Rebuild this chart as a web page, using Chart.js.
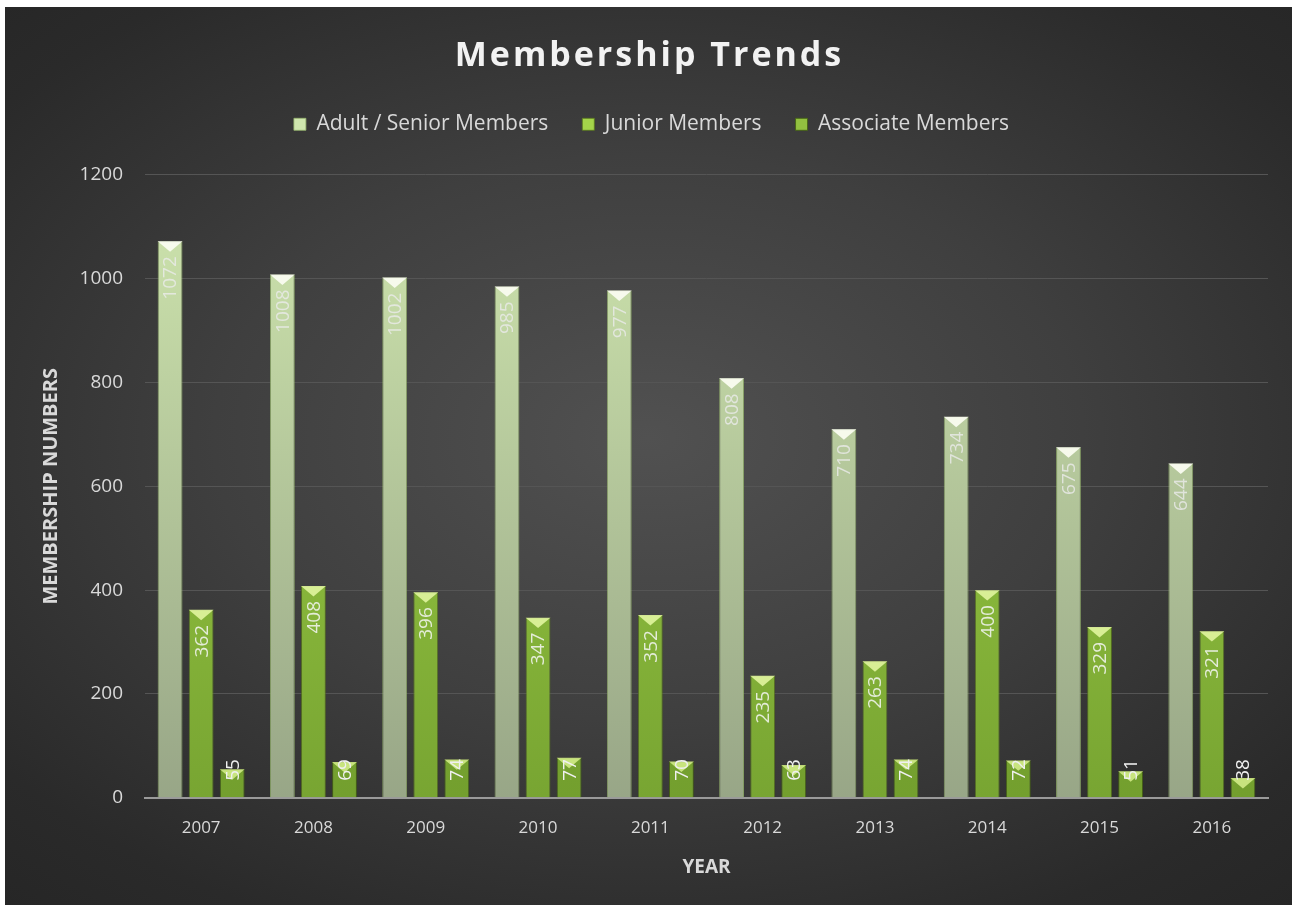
<!DOCTYPE html>
<html>
<head>
<meta charset="utf-8">
<script src="https://cdn.jsdelivr.net/npm/chart.js@4"></script>
<style>
    body { margin: 0; background: #ffffff; }
    #wrap {
        position: absolute; left: 5px; top: 7px; width: 1287px; height: 898px;
        background: radial-gradient(ellipse 75% 70% at 50% 48%, #515151 0%, #3f3f3f 45%, #2a2a2a 85%, #262626 100%);
    }
</style>
</head>
<body>
<div id="wrap"><canvas id="chart"></canvas></div>
<script>
// Membership numbers per year
var years = ['2007', '2008', '2009', '2010', '2011', '2012', '2013', '2014', '2015', '2016'];
var adultMembers = [1072, 1008, 1002, 985, 977, 808, 710, 734, 675, 644];
var juniorMembers = [362, 408, 396, 347, 352, 235, 263, 400, 329, 321];
var associateMembers = [55, 69, 74, 77, 70, 63, 74, 72, 51, 38];
var yTicks = [0, 200, 400, 600, 800, 1000, 1200];

var FONT = "'Open Sans', sans-serif";

function barFill(top, bottom) {
    return function (ctx) {
        var area = ctx.chart.chartArea;
        if (!area) return top;
        var g = ctx.chart.ctx.createLinearGradient(0, area.top, 0, area.bottom);
        g.addColorStop(0, top);
        g.addColorStop(1, bottom);
        return g;
    };
}

// extra room under the legend
const legendGap = {
    id: 'legendGap',
    beforeInit(chart) {
        const fit = chart.legend.fit;
        chart.legend.fit = function () {
            fit.bind(chart.legend)();
            this.height += 30;
        };
    }
};

// spaced-out title drawn over the (invisible) built-in title block
const titlePlugin = {
    id: 'spacedTitle',
    afterDraw(chart) {
        const tb = chart.titleBlock;
        if (!tb) return;
        const ctx = chart.ctx;
        ctx.save();
        ctx.font = 'bold 34px ' + FONT;
        ctx.letterSpacing = '3px';
        ctx.fillStyle = '#f2f2f2';
        ctx.textAlign = 'center';
        ctx.textBaseline = 'middle';
        ctx.fillText('Membership Trends', chart.width / 2 + 1, tb.top + 19);
        ctx.restore();
    }
};

// white bevel triangle at the top of every bar
const bevelPlugin = {
    id: 'bevel',
    afterDatasetsDraw(chart) {
        const ctx = chart.ctx;
        const tints = ['rgba(250,252,240,0.95)', 'rgba(225,245,160,0.9)', 'rgba(215,240,140,0.85)'];
        chart.data.datasets.forEach((ds, i) => {
            chart.getDatasetMeta(i).data.forEach(bar => {
                const w = bar.width;
                ctx.save();
                ctx.beginPath();
                ctx.moveTo(bar.x - w / 2, bar.y);
                ctx.lineTo(bar.x + w / 2, bar.y);
                ctx.lineTo(bar.x, bar.y + w * 0.42);
                ctx.closePath();
                ctx.fillStyle = tints[i];
                ctx.fill();
                ctx.restore();
            });
        });
    }
};

// rotated value labels, inside end of the bar
const labelPlugin = {
    id: 'valueLabels',
    afterDatasetsDraw(chart) {
        const ctx = chart.ctx;
        const base = chart.scales.y.getPixelForValue(0);
        const colors = ['rgba(235,235,235,0.8)', '#e4ecd8', '#f0f0f0'];
        ctx.save();
        ctx.font = '19px ' + FONT;
        chart.data.datasets.forEach((ds, i) => {
            chart.getDatasetMeta(i).data.forEach((bar, j) => {
                const txt = String(ds.data[j]);
                const tw = ctx.measureText(txt).width;
                let endY = bar.y + 15;
                if (endY + tw > base - 17) endY = base - 17 - tw;
                ctx.save();
                ctx.translate(bar.x, endY);
                ctx.rotate(-Math.PI / 2);
                ctx.fillStyle = colors[i];
                ctx.textAlign = 'right';
                ctx.textBaseline = 'middle';
                ctx.fillText(txt, 0, 1);
                ctx.restore();
            });
        });
        ctx.restore();
    }
};

const ctx = document.getElementById('chart').getContext('2d');
const myChart = new Chart(ctx, {
    type: 'bar',
    data: {
        labels: years,
        datasets: [{
            label: 'Adult / Senior Members',
            data: adultMembers,
            backgroundColor: barFill('#cfe6ae', '#98a687'),
            borderColor: 'rgba(150,180,110,0.8)',
            borderWidth: 1
        }, {
            label: 'Junior Members',
            data: juniorMembers,
            backgroundColor: barFill('#a4d44a', '#78a532'),
            borderColor: 'rgba(90,120,30,0.8)',
            borderWidth: 1
        }, {
            label: 'Associate Members',
            data: associateMembers,
            backgroundColor: barFill('#92c040', '#739f2e'),
            borderColor: 'rgba(70,100,20,0.9)',
            borderWidth: 1
        }]
    },
    options: {
        responsive: true,
        maintainAspectRatio: false,
        animation: false,
        categoryPercentage: 0.83,
        barPercentage: 0.8,
        layout: { padding: { left: 30, right: 24, top: 30, bottom: 22 } },
        plugins: {
            title: {
                display: true,
                text: 'Membership Trends',
                color: 'rgba(0,0,0,0)',
                font: { family: FONT, size: 34, weight: 'bold' },
                padding: { top: 0, bottom: 2 }
            },
            legend: {
                labels: {
                    color: '#d9d9d9',
                    font: { family: FONT, size: 21 },
                    boxWidth: 12,
                    boxHeight: 12,
                    padding: 34
                }
            },
            tooltip: { enabled: false }
        },
        scales: {
            x: {
                grid: { display: false },
                border: { color: '#9a9a9a', width: 2 },
                ticks: { color: '#d9d9d9', font: { family: FONT, size: 17 }, padding: 12 },
                title: {
                    display: true, text: 'YEAR', color: '#d9d9d9',
                    font: { family: FONT, size: 19, weight: 'bold' }, padding: { top: 6 }
                }
            },
            y: {
                min: 0,
                max: 1200,
                afterFit: (axis) => { axis.width = 110; },
                afterBuildTicks: (axis) => { axis.ticks = yTicks.map(v => ({ value: v })); },
                grid: { color: '#555555', lineWidth: 1, drawTicks: false },
                border: { display: false },
                ticks: {
                    color: '#d9d9d9', font: { family: FONT, size: 19 }, padding: 22,
                    callback: (value) => String(value)
                },
                title: {
                    display: true, text: 'MEMBERSHIP NUMBERS', color: '#d9d9d9',
                    font: { family: FONT, size: 20, weight: 'bold' }, padding: { bottom: 8 }
                }
            }
        }
    },
    plugins: [legendGap, titlePlugin, bevelPlugin, labelPlugin]
});
</script>
</body>
</html>
